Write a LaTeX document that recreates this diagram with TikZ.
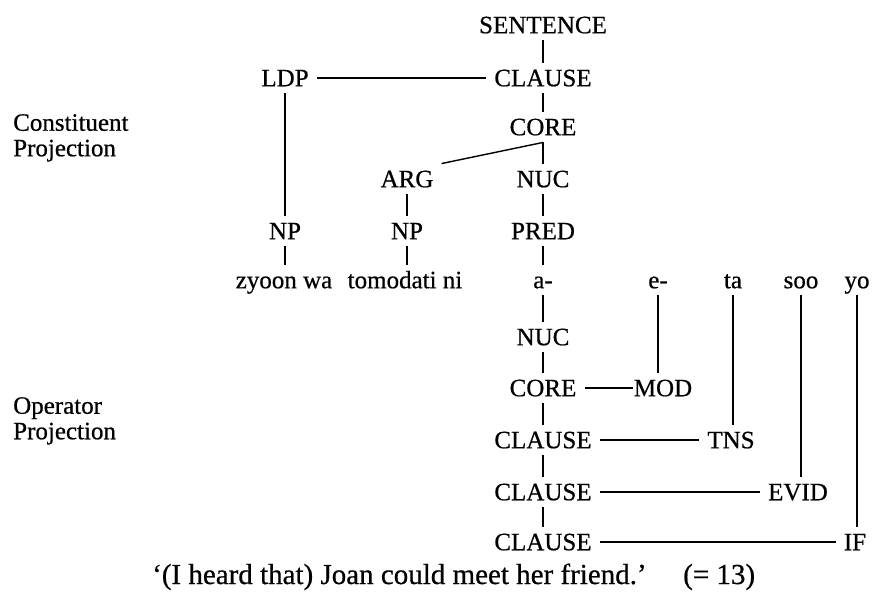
\documentclass[tikz,border=0pt]{standalone}
\usepackage{fontspec}
\setmainfont{Liberation Serif}[FakeBold=0.6]
\begin{document}
\begin{tikzpicture}[x=1pt,y=-1pt,
  lbl/.style={font=\fontsize{25}{30}\selectfont, text height=16.5pt, text depth=0pt, inner xsep=8pt, inner ysep=7pt},
  side/.style={font=\fontsize{25}{25.5}\selectfont, align=left, anchor=north west, inner sep=0pt},
  capt/.style={font=\fontsize{29}{34}\selectfont, anchor=base west, inner sep=0pt},
  ln/.style={line width=1.4pt}]
\useasboundingbox (0,0) rectangle (873,609);
% constituent projection
\node[lbl] (sent)  at (543,25)  {SENTENCE};
\node[lbl] (clC)   at (543,78)  {CLAUSE};
\node[lbl] (ldp)   at (285,78)  {LDP};
\node[lbl] (coreC) at (543,127) {CORE};
\node[lbl] (arg)   at (407,179) {ARG};
\node[lbl] (nucC)  at (543,179) {NUC};
\node[lbl] (np1)   at (285,231) {NP};
\node[lbl] (np2)   at (407,231) {NP};
\node[lbl] (pred)  at (543,231) {PRED};
% words
\node[lbl] (w1)    at (284,280) {zyoon wa};
\node[lbl] (w2)    at (405,280) {tomodati ni};
\node[lbl] (wa)    at (543,280) {a-};
\node[lbl] (we)    at (658,280) {e-};
\node[lbl] (wta)   at (733,280) {ta};
\node[lbl] (wsoo)  at (801,280) {soo};
\node[lbl] (wyo)   at (857,280) {yo};
% operator projection
\node[lbl] (nucO)  at (543,337) {NUC};
\node[lbl] (coreO) at (543,388) {CORE};
\node[lbl] (mod)   at (663,388) {MOD};
\node[lbl] (cl1)   at (543,440) {CLAUSE};
\node[lbl] (tns)   at (731,440) {TNS};
\node[lbl] (cl2)   at (543,492) {CLAUSE};
\node[lbl] (evid)  at (798,492) {EVID};
\node[lbl] (cl3)   at (543,542) {CLAUSE};
\node[lbl] (ifn)   at (855,542) {IF};
% side labels
\node[side] (cp) at (13,114) {Constituent\\Projection};
\node[side] (op) at (13,397) {Operator\\Projection};
% caption
\node[capt] (cap) at (152,584) {‘(I heard that) Joan could meet her friend.’};
\node[capt] (num) at (683,584) {(= 13)};
% connectors
\draw[ln] (sent) -- (clC);
\draw[ln] (ldp) -- (clC);
\draw[ln] (clC) -- (coreC);
\draw[ln] (coreC.south) -- (nucC.north);
\draw[ln] (coreC.south) -- (arg.north east);
\draw[ln] (ldp) -- (np1);
\draw[ln] (arg) -- (np2);
\draw[ln] (nucC) -- (pred);
\draw[ln] (np1.south) -- (np1.south |- w1.north);
\draw[ln] (np2.south) -- (np2.south |- w2.north);
\draw[ln] (pred) -- (wa);
\draw[ln] (wa) -- (nucO);
\draw[ln] (nucO) -- (coreO);
\draw[ln, shorten >=-7pt] (coreO) -- (mod);
\draw[ln] (coreO) -- (cl1);
\draw[ln] (cl1) -- (cl2);
\draw[ln] (cl2) -- (cl3);
\draw[ln] (cl1) -- (tns);
\draw[ln] (cl2) -- (evid);
\draw[ln] (cl3) -- (ifn);
\draw[ln] (we.south) -- (we.south |- mod.north);
\draw[ln] (wta.south) -- (wta.south |- tns.north);
\draw[ln] (wsoo.south) -- (wsoo.south |- evid.north);
\draw[ln] (wyo.south) -- (wyo.south |- ifn.north);
\end{tikzpicture}
\end{document}
